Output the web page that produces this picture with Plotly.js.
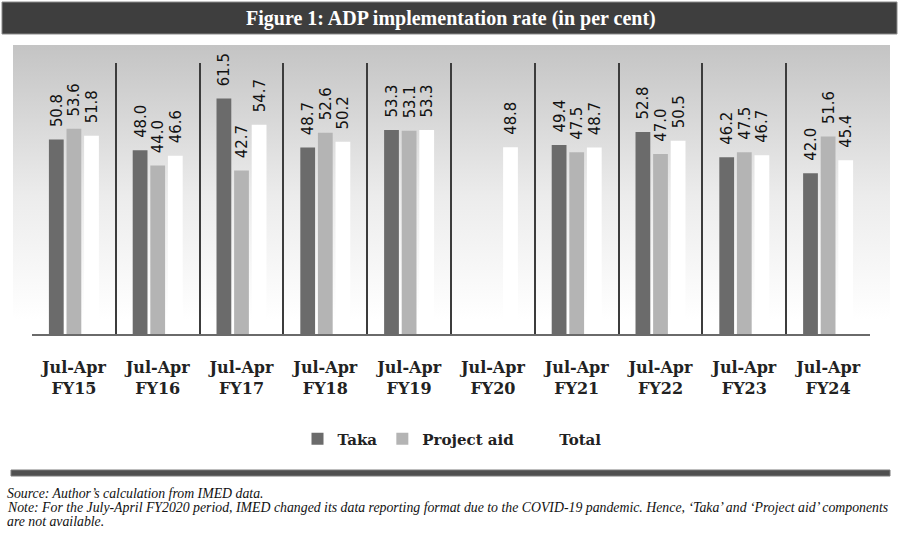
<!DOCTYPE html>
<html>
<head>
<meta charset="utf-8">
<script src="https://cdn.plot.ly/plotly-3.0.1.min.js"></script>
<style>html,body{margin:0;padding:0;background:#fff;}#chart{width:900px;height:542px;}</style>
</head>
<body>
<div id="chart"></div>
<script>
const categories = ['Jul-Apr<br>FY15','Jul-Apr<br>FY16','Jul-Apr<br>FY17','Jul-Apr<br>FY18','Jul-Apr<br>FY19','Jul-Apr<br>FY20','Jul-Apr<br>FY21','Jul-Apr<br>FY22','Jul-Apr<br>FY23','Jul-Apr<br>FY24'];
const taka = [50.8, 48.0, 61.5, 48.7, 53.3, null, 49.4, 52.8, 46.2, 42.0];
const projectAid = [53.6, 44.0, 42.7, 52.6, 53.1, null, 47.5, 47.0, 47.5, 51.6];
const total = [51.8, 46.6, 54.7, 50.2, 53.3, 48.8, 48.7, 50.5, 46.7, 45.4];
const seriesNames = ['Taka', 'Project aid', 'Total'];

const W = 900, H = 542;
const L = 32, R = 30, T = 63, B = 208;
const pw = W - L - R, ph = H - T - B;
const px = v => (v - L) / pw;
const py = v => (H - B - v) / ph;

const serif = 'DejaVu Serif';
const labelFont = {family: 'DejaVu Sans Condensed', size: 16.5, color: '#111'};
function barTrace(name, y, color) {
  return {
    type: 'bar', name: name, x: categories, y: y,
    marker: {color: color, line: {width: 0}},
    text: y.map(v => v == null ? '' : '\u00a0\u00a0' + v.toFixed(1)),
    texttemplate: '%{text}',
    textposition: 'outside', textangle: -90, constraintext: 'none',
    textfont: labelFont, cliponaxis: false,
    hoverinfo: 'skip'
  };
}

const gradSvg = '<svg xmlns="http://www.w3.org/2000/svg" width="100" height="100" preserveAspectRatio="none">' +
  '<defs><linearGradient id="g" x1="0" y1="0" x2="0" y2="1">' +
  '<stop offset="0" stop-color="#c4c4c4"/><stop offset="0.55" stop-color="#ececec"/><stop offset="1" stop-color="#ffffff"/>' +
  '</linearGradient></defs><rect width="100" height="100" fill="url(#g)"/></svg>';

const data = [
  barTrace(seriesNames[0], taka, '#6b6b6b'),
  barTrace(seriesNames[1], projectAid, '#b4b4b4'),
  barTrace(seriesNames[2], total, '#ffffff')
];

const layout = {
  width: W, height: H,
  margin: {l: L, r: R, t: T, b: B},
  font: {family: serif, color: '#111'},
  paper_bgcolor: '#ffffff',
  plot_bgcolor: 'rgba(0,0,0,0)',
  barmode: 'group', bargap: 0.37, bargroupgap: 0.16,
  showlegend: true,
  legend: {
    orientation: 'h', x: px(452), xanchor: 'center', y: py(439), yanchor: 'middle',
    font: {family: serif, size: 15, color: '#222', weight: 'bold'},
    bgcolor: 'rgba(0,0,0,0)', itemwidth: 30, traceorder: 'normal'
  },
  xaxis: {
    type: 'category', tickson: 'boundaries', showgrid: true,
    gridcolor: '#3c3c3c', gridwidth: 2,
    showline: true, linecolor: '#6a6a6a', linewidth: 1.5,
    ticks: '', ticklabelstandoff: 18,
    tickfont: {family: serif, size: 16, color: '#222', weight: 'bold'},
    range: [-0.5, 9.5], fixedrange: true
  },
  yaxis: {
    range: [0, 70.8], showgrid: false, zeroline: false, showticklabels: false,
    showline: false, ticks: '', fixedrange: true
  },
  images: [{
    source: 'data:image/svg+xml;charset=utf-8,' + encodeURIComponent(gradSvg),
    xref: 'paper', yref: 'paper',
    x: px(13), y: py(45), sizex: px(890) - px(13), sizey: py(45) - py(320),
    xanchor: 'left', yanchor: 'top', sizing: 'stretch', layer: 'below'
  }],
  shapes: [
    {type: 'rect', xref: 'paper', yref: 'paper', x0: px(2), x1: px(897), y0: py(34), y1: py(2),
     fillcolor: '#3e3e3e', line: {color: '#8a8a8a', width: 1}},
    {type: 'rect', xref: 'paper', yref: 'paper', x0: px(11), x1: px(890), y0: py(476), y1: py(470),
     fillcolor: '#505050', line: {color: '#7a7a7a', width: 1}}
  ],
  annotations: [
    {xref: 'paper', yref: 'paper', x: px(451), y: py(18), xanchor: 'center', yanchor: 'middle', showarrow: false,
     text: 'Figure 1: ADP implementation rate (in per cent)',
     font: {family: 'Liberation Serif', size: 20, color: '#ffffff', weight: 'bold'}},
    {xref: 'paper', yref: 'paper', x: px(5), y: py(493), xanchor: 'left', yanchor: 'middle', showarrow: false,
     text: '<i>Source: Author\u2019s calculation from IMED data.</i>',
     font: {family: 'Liberation Serif', size: 13.8, color: '#111'}},
    {xref: 'paper', yref: 'paper', x: px(5), y: py(507), xanchor: 'left', yanchor: 'middle', showarrow: false,
     text: '<i>Note: For the July-April FY2020 period, IMED changed its data reporting format due to the COVID-19 pandemic. Hence, \u2018Taka\u2019 and \u2018Project aid\u2019 components</i>',
     font: {family: 'Liberation Serif', size: 13.8, color: '#111'}},
    {xref: 'paper', yref: 'paper', x: px(5), y: py(521), xanchor: 'left', yanchor: 'middle', showarrow: false,
     text: '<i>are not available.</i>',
     font: {family: 'Liberation Serif', size: 13.8, color: '#111'}}
  ]
};

Plotly.newPlot('chart', data, layout, {displayModeBar: false, staticPlot: true});
</script>
</body>
</html>
